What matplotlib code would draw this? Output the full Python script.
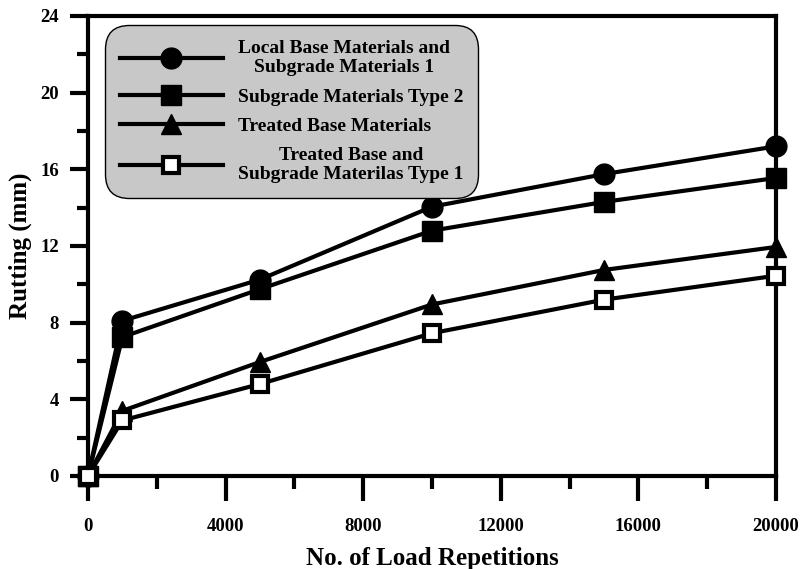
import matplotlib.pyplot as plt
from matplotlib.ticker import MultipleLocator

plt.rcParams['font.family'] = ['Liberation Serif', 'DejaVu Serif']
plt.rcParams['font.weight'] = 'bold'

repetitions = [0, 1000, 5000, 10000, 15000, 20000]
local_base = [0, 8.1, 10.25, 14.05, 15.75, 17.2]
subgrade_type2 = [0, 7.25, 9.75, 12.8, 14.3, 15.55]
treated_base = [0, 3.4, 5.95, 8.95, 10.75, 11.95]
treated_subgrade = [0, 2.9, 4.8, 7.45, 9.2, 10.45]

labels = ["Local Base Materials and\nSubgrade Materials 1",
          "Subgrade Materials Type 2",
          "Treated Base Materials",
          "Treated Base and\nSubgrade Materilas Type 1"]

fig = plt.figure(figsize=(8.01, 5.69), dpi=100)
ax = fig.add_axes([88 / 801, 1 - 476 / 569, 688 / 801, 460 / 569])

lw = 3
ax.plot(repetitions, local_base, color='black', lw=lw, marker='o', ms=15,
        label=labels[0], clip_on=False, zorder=3)
ax.plot(repetitions, subgrade_type2, color='black', lw=lw, marker='s', ms=14,
        label=labels[1], clip_on=False, zorder=3)
ax.plot(repetitions, treated_base, color='black', lw=lw, marker='^', ms=15,
        label=labels[2], clip_on=False, zorder=3)
ax.plot(repetitions, treated_subgrade, color='black', lw=lw, marker='s', ms=12,
        mfc='white', mew=3, label=labels[3], clip_on=False, zorder=3)

ax.set_xlim(0, 20000)
ax.set_ylim(0, 24)
ax.xaxis.set_major_locator(MultipleLocator(4000))
ax.xaxis.set_minor_locator(MultipleLocator(2000))
ax.yaxis.set_major_locator(MultipleLocator(4))
ax.yaxis.set_minor_locator(MultipleLocator(2))

for s in ax.spines.values():
    s.set_linewidth(3)
ax.tick_params(which='major', direction='out', width=3, labelsize=13.5)
ax.tick_params(axis='x', which='major', length=18, pad=12)
ax.tick_params(axis='x', which='minor', length=9, width=3)
ax.tick_params(axis='y', which='major', length=13, pad=8)
ax.tick_params(axis='y', which='minor', length=8, width=3)

ax.set_xlabel("No. of Load Repetitions", fontsize=18, fontweight='bold', labelpad=9)
ax.set_ylabel("Rutting (mm)", fontsize=18, fontweight='bold', labelpad=6)

leg = ax.legend(loc='upper left', bbox_to_anchor=(0.025, 0.98), fontsize=14,
                handlelength=5.3, frameon=True, fancybox=True, facecolor='#c8c8c8',
                edgecolor='black', framealpha=1, borderpad=0.75, labelspacing=0.6,
                handletextpad=0.8, borderaxespad=0)
leg.get_frame().set_linewidth(1)
leg.get_frame().set_boxstyle('round', pad=0, rounding_size=1.2)
for t in leg.get_texts():
    t.set_multialignment('center')
    t.set_fontweight('bold')

fig.savefig('out.png', dpi=100)
